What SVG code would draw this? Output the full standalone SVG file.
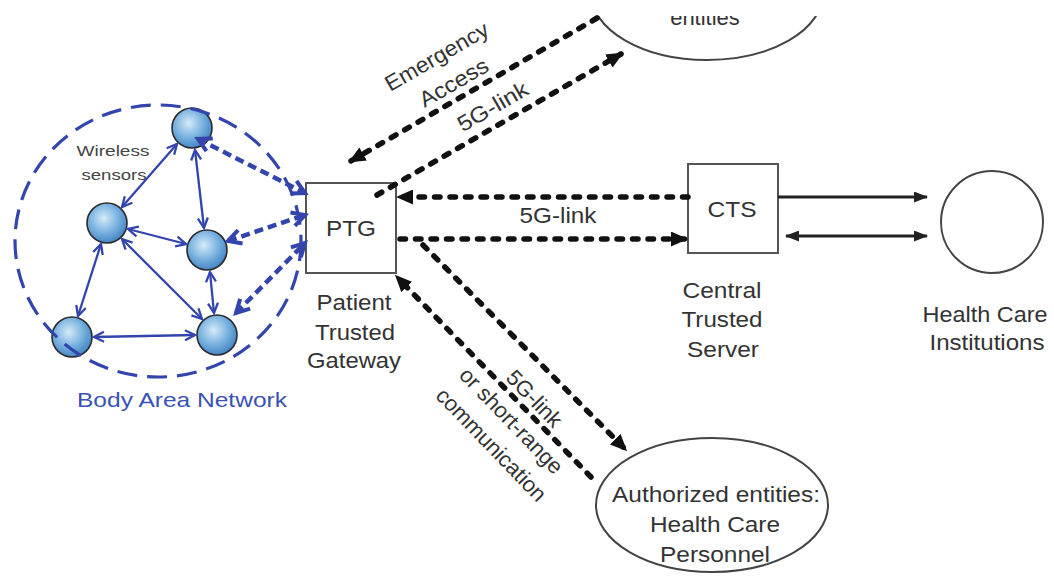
<svg xmlns="http://www.w3.org/2000/svg" width="1054" height="579" viewBox="0 0 1054 579">
<style>
.t{font-family:"Liberation Sans",Arial,sans-serif;font-size:22px;fill:#333;text-anchor:middle}
.box{fill:#fff;stroke:#555;stroke-width:2}
.ell{fill:#fff;stroke:#444;stroke-width:2}
.bd{fill:none;stroke:#111;stroke-width:5.5;stroke-dasharray:5.5 10;stroke-linecap:round}
.bs{fill:none;stroke:#222;stroke-width:3}
.bt{fill:none;stroke:#3345ad;stroke-width:2.3}
.bdash{fill:none;stroke:#3345ad;stroke-width:4.5;stroke-dasharray:9 5}
.node{fill:url(#g);stroke:#2b2b2b;stroke-width:1.6}
</style>
<defs>
<radialGradient id="g" cx="0.42" cy="0.38" r="0.65">
<stop offset="0" stop-color="#d4eaf8"/>
<stop offset="0.55" stop-color="#79b2df"/>
<stop offset="1" stop-color="#3f81c2"/>
</radialGradient>
<marker id="ab" markerUnits="userSpaceOnUse" viewBox="0 0 17 15" markerWidth="17" markerHeight="15" refX="14" refY="7.5" orient="auto-start-reverse"><path d="M0,0 L17,7.5 L0,15 Z" fill="#111"/></marker>
<marker id="as" markerUnits="userSpaceOnUse" viewBox="0 0 14 11" markerWidth="14" markerHeight="11" refX="13" refY="5.5" orient="auto-start-reverse"><path d="M0,0 L14,5.5 L0,11 Z" fill="#222"/></marker>
<marker id="bv" markerUnits="userSpaceOnUse" viewBox="-2 -2 14 14" markerWidth="14" markerHeight="14" refX="10" refY="5" orient="auto-start-reverse" overflow="visible"><path d="M0,0 L10,5 L0,10" fill="none" stroke="#3345ad" stroke-width="2.3"/></marker>
<marker id="bV" markerUnits="userSpaceOnUse" viewBox="-3 -3 20 20" markerWidth="20" markerHeight="20" refX="13" refY="7" orient="auto-start-reverse" overflow="visible"><path d="M0,0 L13,7 L0,14" fill="none" stroke="#3345ad" stroke-width="4"/></marker>
<clipPath id="top"><rect x="0" y="16" width="1054" height="563"/></clipPath>
</defs>
<rect width="1054" height="579" fill="#fff"/>

<g id="emergency-entities" clip-path="url(#top)">
<ellipse class="ell" cx="707" cy="-7" rx="116" ry="67"/>
<text class="t" x="705" y="25">entities</text>
</g>

<g id="ban-nodes">
<circle class="node" cx="192" cy="128" r="20"/>
<circle class="node" cx="107" cy="223" r="20"/>
<circle class="node" cx="207" cy="250" r="20"/>
<circle class="node" cx="72" cy="337" r="20"/>
<circle class="node" cx="217" cy="335" r="20"/>
</g>

<g id="ban">
<ellipse cx="158" cy="241" rx="143" ry="136" fill="none" stroke="#3345ad" stroke-width="3.2" stroke-dasharray="20 10"/>
<text x="113" y="156" textLength="73" lengthAdjust="spacingAndGlyphs" style="font-family:'Liberation Sans',Arial,sans-serif;font-size:15px;fill:#444;text-anchor:middle">Wireless</text>
<text x="114" y="180" textLength="65" lengthAdjust="spacingAndGlyphs" style="font-family:'Liberation Sans',Arial,sans-serif;font-size:15px;fill:#444;text-anchor:middle">sensors</text>
<text x="182" y="407" textLength="210" lengthAdjust="spacingAndGlyphs" style="font-family:'Liberation Sans',Arial,sans-serif;font-size:21px;fill:#3a52b4;text-anchor:middle">Body Area Network</text>
</g>

<g id="ptg">
<rect class="box" x="306" y="183" width="90" height="90"/>
<text class="t" x="351" y="236" textLength="50" lengthAdjust="spacingAndGlyphs">PTG</text>
<text class="t" x="354" y="310" textLength="75" lengthAdjust="spacingAndGlyphs">Patient</text>
<text class="t" x="355" y="340" textLength="80" lengthAdjust="spacingAndGlyphs">Trusted</text>
<text class="t" x="354" y="368" textLength="94" lengthAdjust="spacingAndGlyphs">Gateway</text>
</g>

<g id="cts">
<rect class="box" x="688" y="164" width="90" height="89"/>
<text class="t" x="732" y="217" textLength="49" lengthAdjust="spacingAndGlyphs">CTS</text>
<text class="t" x="722" y="298" textLength="79" lengthAdjust="spacingAndGlyphs">Central</text>
<text class="t" x="722" y="327" textLength="81" lengthAdjust="spacingAndGlyphs">Trusted</text>
<text class="t" x="723" y="357" textLength="72" lengthAdjust="spacingAndGlyphs">Server</text>
</g>

<g id="hci">
<circle class="ell" cx="992" cy="222" r="51"/>
<text class="t" x="985" y="322" textLength="125" lengthAdjust="spacingAndGlyphs">Health Care</text>
<text class="t" x="987" y="350" textLength="115" lengthAdjust="spacingAndGlyphs">Institutions</text>
</g>

<g id="personnel">
<ellipse class="ell" cx="712" cy="505" rx="116" ry="67"/>
<text class="t" x="716" y="502" textLength="208" lengthAdjust="spacingAndGlyphs">Authorized entities:</text>
<text class="t" x="715" y="532" textLength="130" lengthAdjust="spacingAndGlyphs">Health Care</text>
<text class="t" x="715" y="562" textLength="110" lengthAdjust="spacingAndGlyphs">Personnel</text>
</g>

<g id="connectors">
<line class="bt" x1="177" y1="144" x2="122" y2="207" marker-start="url(#bv)" marker-end="url(#bv)"/>
<line class="bt" x1="195" y1="150" x2="204" y2="228" marker-start="url(#bv)" marker-end="url(#bv)"/>
<line class="bt" x1="128" y1="229" x2="186" y2="244" marker-start="url(#bv)" marker-end="url(#bv)"/>
<line class="bt" x1="101" y1="244" x2="78" y2="316" marker-start="url(#bv)" marker-end="url(#bv)"/>
<line class="bt" x1="122" y1="239" x2="202" y2="319" marker-start="url(#bv)" marker-end="url(#bv)"/>
<line class="bt" x1="210" y1="272" x2="214" y2="313" marker-start="url(#bv)" marker-end="url(#bv)"/>
<line class="bt" x1="94" y1="337" x2="195" y2="335" marker-start="url(#bv)" marker-end="url(#bv)"/>

<line class="bdash" x1="198" y1="139" x2="305" y2="193" marker-start="url(#bV)" marker-end="url(#bV)"/>
<line class="bdash" x1="228" y1="241" x2="305" y2="215" marker-start="url(#bV)" marker-end="url(#bV)"/>
<line class="bdash" x1="236" y1="313" x2="305" y2="243" marker-start="url(#bV)" marker-end="url(#bV)"/>

<line class="bd" x1="688" y1="197" x2="399" y2="197" marker-end="url(#ab)"/>
<line class="bd" x1="400" y1="239" x2="685" y2="239" marker-end="url(#ab)"/>
<line class="bd" x1="597" y1="18" x2="351" y2="161" marker-end="url(#ab)"/>
<line class="bd" x1="377" y1="195" x2="621" y2="54" marker-end="url(#ab)"/>
<line class="bd" x1="423" y1="245" x2="625" y2="449" marker-end="url(#ab)"/>
<line class="bd" x1="591" y1="477" x2="397" y2="277" marker-end="url(#ab)"/>

<line class="bs" x1="778" y1="197" x2="927" y2="197" marker-end="url(#as)"/>
<line class="bs" x1="786" y1="236" x2="927" y2="236" marker-start="url(#as)" marker-end="url(#as)"/>

<g transform="translate(437,57) rotate(-30)"><text class="t" x="0" y="7" textLength="116" lengthAdjust="spacingAndGlyphs">Emergency</text></g>
<g transform="translate(454,83) rotate(-30)"><text class="t" x="0" y="7" textLength="76" lengthAdjust="spacingAndGlyphs">Access</text></g>
<g transform="translate(493,107) rotate(-30)"><text class="t" x="0" y="7" textLength="78" lengthAdjust="spacingAndGlyphs">5G-link</text></g>
<text class="t" x="558" y="223" textLength="77" lengthAdjust="spacingAndGlyphs">5G-link</text>
<g transform="translate(534,399) rotate(46)"><text class="t" x="0" y="7">5G-link</text></g>
<g transform="translate(511,421) rotate(46)"><text class="t" x="0" y="7">or short-range</text></g>
<g transform="translate(491,445) rotate(46)"><text class="t" x="0" y="7">communication</text></g>
</g>
</svg>
